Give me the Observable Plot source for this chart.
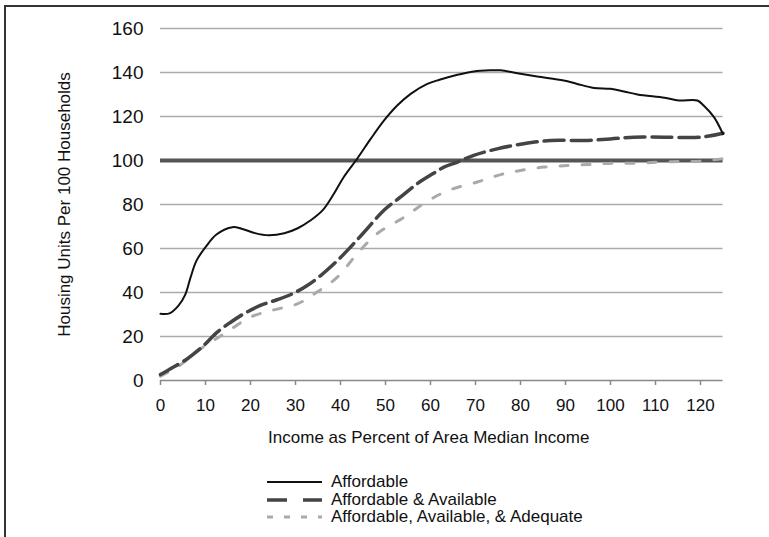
<!DOCTYPE html>
<html>
<head>
<meta charset="utf-8">
<script src="https://cdn.jsdelivr.net/npm/d3@7"></script>
<script src="https://cdn.jsdelivr.net/npm/@observablehq/plot@0.6"></script>
<style>
  html, body { margin: 0; padding: 0; background: #fff; overflow: hidden; width: 769px; height: 537px; }
  #frame { position: absolute; left: 4px; top: 5px; right: -10px; bottom: -10px; border-left: 2px solid #333; border-top: 2px solid #333; pointer-events: none; z-index: 2; }
  #chart { position: absolute; left: 0; top: 0; z-index: 1; }
  #legend { position: absolute; left: 267px; top: 473px; font-family: "Liberation Sans", Arial, sans-serif; font-size: 17px; color: #111; z-index: 1; }
  .row { display: flex; align-items: center; height: 17.5px; line-height: 17.5px; white-space: nowrap; }
  .row svg { margin-right: 9px; }
</style>
</head>
<body>
<div id="chart"></div>
<div id="legend"></div>
<div id="frame"></div>
<script>
// ---- data ----
const xTicks = [0, 10, 20, 30, 40, 50, 60, 70, 80, 90, 100, 110, 120];
const yTicks = [0, 20, 40, 60, 80, 100, 120, 140, 160];
const xTitle = "Income as Percent of Area Median Income";
const yTitle = "Housing Units Per 100 Households";
const seriesNames = ["Affordable", "Affordable & Available", "Affordable, Available, & Adequate"];
const referenceLevel = 100;

const affordableX = [0, 2, 4, 5.5, 6.7, 8, 10, 12.5, 16, 18, 21, 24, 27.5, 30.5, 33.3, 36, 38.5, 40.7, 43.7, 46.7, 49.6, 52.6, 55.6, 59.3, 62, 66, 69.6, 73.3, 75.6, 79.3, 83.7, 89.6, 92.6, 96.3, 100, 103, 106, 112, 115.2, 119.3, 120.7, 123, 125];
const affordableY = [30.3, 30.5, 34, 39, 47, 54.5, 60.6, 66.5, 69.7, 69, 67, 66, 66.9, 69.2, 72.7, 77.3, 84.8, 92.4, 100.8, 109.8, 118, 125, 130.3, 134.8, 136.7, 139, 140.5, 141, 141, 139.7, 138.2, 136.4, 134.8, 133, 132.6, 131.4, 130, 128.5, 127.3, 127.3, 125, 119.7, 112];

const availableX = [0, 2.2, 5.9, 9.6, 12.6, 15.6, 18.5, 22.2, 25.9, 29.6, 32.6, 35.6, 39.3, 42.2, 45.9, 49.6, 53.3, 57, 60.7, 63, 65.9, 69.6, 74.8, 80.7, 86.7, 94.1, 100, 105.2, 111.9, 120, 125];
const availableY = [2.7, 5.3, 9.8, 15.9, 22, 26.5, 30.3, 34.1, 36.7, 39.7, 43.2, 47.7, 54.5, 60.6, 68.9, 77.3, 83.3, 89.4, 94.2, 97, 99.2, 102.3, 105.3, 107.6, 109.1, 109.1, 109.8, 110.6, 110.6, 110.6, 112.4];

const adequateX = [0, 4, 8.9, 14.1, 20, 25.2, 30.4, 34.8, 39.3, 43.7, 48.1, 54.1, 59.3, 64.1, 70.4, 75.6, 80, 85.2, 90.4, 95.6, 100.4, 105.2, 110.4, 115.2, 120, 125];
const adequateY = [2, 6.5, 14.4, 21.2, 28.8, 32.1, 34.8, 40.2, 47, 57.6, 66.7, 74.2, 81.5, 86.5, 90.2, 93.6, 95.5, 97, 97.7, 98.2, 98.8, 98.8, 99.2, 99.5, 99.7, 100.8];

// ---- build tables ----
const toRows = (xs, ys) => xs.map((x, i) => ({x, y: ys[i]}));
const affordable = toRows(affordableX, affordableY);
const available = toRows(availableX, availableY);
const adequate = toRows(adequateX, adequateY);

const styles = [
  {stroke: "#111", strokeWidth: 2, dash: null, legendDash: null},
  {stroke: "#444", strokeWidth: 3.5, dash: "20,7", legendDash: "20,16"},
  {stroke: "#aaa", strokeWidth: 3, dash: "8,14", legendDash: "6,11"}
];

const font = "'Liberation Sans', Arial, sans-serif";

const chart = Plot.plot({
  width: 769,
  height: 460,
  marginTop: 28,
  marginBottom: 80,
  marginLeft: 160,
  marginRight: 46.5,
  style: {fontFamily: font, color: "#111", background: "transparent"},
  x: {domain: [0, 125]},
  y: {domain: [0, 160]},
  marks: [
    Plot.gridY(yTicks.filter(d => d !== 0), {stroke: "#aaa", strokeOpacity: 1, strokeWidth: 1.5}),
    Plot.axisY(yTicks, {tickSize: 0, tickPadding: 17, fontSize: 19, label: null}),
    Plot.axisX(xTicks, {tickSize: 5, tickPadding: 13.5, fontSize: 17, label: null, stroke: "#888", strokeWidth: 1.5}),
    Plot.ruleY([0], {stroke: "#888", strokeWidth: 1.5}),
    Plot.ruleY([referenceLevel], {stroke: "#555", strokeWidth: 4}),
    Plot.line(adequate, {x: "x", y: "y", curve: "catmull-rom", stroke: styles[2].stroke, strokeWidth: styles[2].strokeWidth, strokeDasharray: styles[2].dash}),
    Plot.line(available, {x: "x", y: "y", curve: "catmull-rom", stroke: styles[1].stroke, strokeWidth: styles[1].strokeWidth, strokeDasharray: styles[1].dash}),
    Plot.line(affordable, {x: "x", y: "y", curve: "catmull-rom", stroke: styles[0].stroke, strokeWidth: styles[0].strokeWidth}),
    Plot.text([yTitle], {text: d => d, frameAnchor: "left", textAnchor: "middle", dx: -96, rotate: -90, fontSize: 17, fill: "#111"}),
    Plot.text([xTitle], {text: d => d, frameAnchor: "bottom", textAnchor: "middle", dx: -13, dy: 62, fontSize: 17, fill: "#111"})
  ]
});
document.getElementById("chart").appendChild(chart);

// ---- legend (HTML below the chart) ----
const legend = document.getElementById("legend");
seriesNames.forEach((name, i) => {
  const s = styles[i];
  const row = document.createElement("div");
  row.className = "row";
  const sw = d3.create("svg").attr("width", 55).attr("height", 17.5);
  sw.append("line").attr("x1", 0).attr("x2", 55).attr("y1", 9).attr("y2", 9)
    .attr("stroke", s.stroke).attr("stroke-width", s.strokeWidth)
    .attr("stroke-dasharray", s.legendDash);
  row.appendChild(sw.node());
  const t = document.createElement("span");
  t.textContent = name;
  row.appendChild(t);
  legend.appendChild(row);
});
</script>
</body>
</html>
